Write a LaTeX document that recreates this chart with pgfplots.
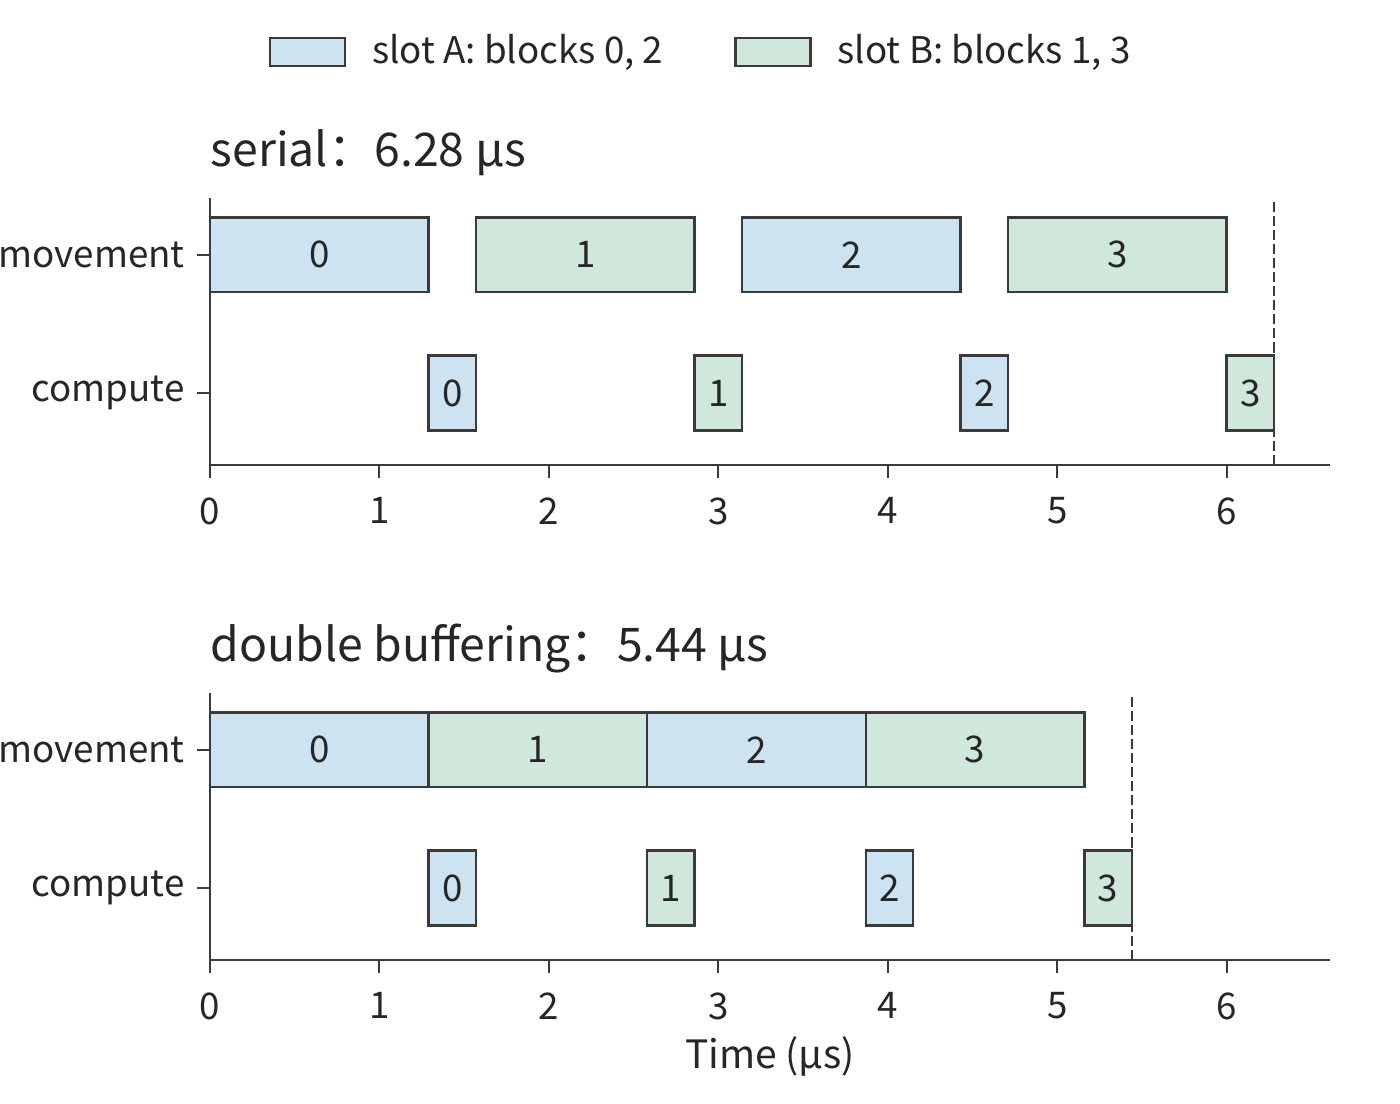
\documentclass[border=0pt]{standalone}
\usepackage{fontspec}
\setmainfont{Noto Sans CJK SC}
\usepackage{pgfplots}
\pgfplotsset{compat=1.18}

\definecolor{slotA}{RGB}{205,227,242}
\definecolor{slotB}{RGB}{208,232,220}
\definecolor{edge}{RGB}{58,58,58}
\definecolor{ink}{RGB}{38,38,38}

\pgfplotsset{
  gantt/.style={
    scale only axis, width=11.2cm, height=2.67cm,
    xmin=0, xmax=6.61, ymin=-0.52, ymax=1.41,
    axis x line*=bottom, axis y line*=left,
    axis line style={edge, line width=0.55pt},
    xtick={0,...,6}, ytick={0,1}, yticklabels={compute,movement},
    tick align=outside, major tick length=0.13cm,
    tick style={edge, line width=0.6pt},
    ticklabel style={text=ink},
    xticklabel style={yshift=-0.07cm},
    /pgf/number format/assume math mode=true,
    title style={at={(axis description cs:0,1)}, anchor=base west,
      font=\fontsize{13.2}{15}\selectfont, text=ink, inner sep=0pt,
      yshift=0.10cm},
    clip=false,
  },
  slot a/.style={draw=edge, line width=0.7pt, fill=slotA, forget plot},
  slot b/.style={draw=edge, line width=0.7pt, fill=slotB, forget plot},
  block num/.style={only marks, mark=none, forget plot, nodes near coords,
    point meta=explicit symbolic, nodes near coords align={center},
    every node near coord/.append style={text=ink}},
  finish/.style={edge, line width=0.6pt, dash pattern=on 2.85pt off 1.15pt, forget plot},
  patch legend/.style={legend image code/.code={
    \draw[##1] (0cm,-0.14cm) rectangle (0.75cm,0.14cm);}},
}

\begin{document}
\begin{tikzpicture}[font=\fontsize{10.45}{12.5}\selectfont]
\path[use as bounding box] (0,0) rectangle (14,11.04);

% serial: each block moved, then computed
\begin{axis}[gantt, at={(2.10cm,6.39cm)}, anchor=south west,
  title={serial：6.28 µs},
  legend columns=2, legend cell align=left,
  legend style={draw=none, fill=none, inner sep=0pt, text=ink,
    at={(axis description cs:0.0518,1.547)}, anchor=west,
    /tikz/every odd column/.append style={column sep=0.19cm},
    /tikz/every even column/.append style={column sep=0.64cm}},
]
\addlegendimage{slot a, patch legend}
\addlegendentry{slot A: blocks 0, 2}
\addlegendimage{slot b, patch legend}
\addlegendentry{slot B: blocks 1, 3}

% movement
\addplot[slot a] coordinates {(0,0.73) (1.29,0.73) (1.29,1.27) (0,1.27)} -- cycle;
\addplot[slot b] coordinates {(1.57,0.73) (2.86,0.73) (2.86,1.27) (1.57,1.27)} -- cycle;
\addplot[slot a] coordinates {(3.14,0.73) (4.43,0.73) (4.43,1.27) (3.14,1.27)} -- cycle;
\addplot[slot b] coordinates {(4.71,0.73) (6.00,0.73) (6.00,1.27) (4.71,1.27)} -- cycle;
% compute
\addplot[slot a] coordinates {(1.29,-0.27) (1.57,-0.27) (1.57,0.27) (1.29,0.27)} -- cycle;
\addplot[slot b] coordinates {(2.86,-0.27) (3.14,-0.27) (3.14,0.27) (2.86,0.27)} -- cycle;
\addplot[slot a] coordinates {(4.43,-0.27) (4.71,-0.27) (4.71,0.27) (4.43,0.27)} -- cycle;
\addplot[slot b] coordinates {(6.00,-0.27) (6.28,-0.27) (6.28,0.27) (6.00,0.27)} -- cycle;

\addplot[block num] coordinates {
  (0.645,1)[0] (2.215,1)[1] (3.785,1)[2] (5.355,1)[3]
  (1.43,0)[0] (3.00,0)[1] (4.57,0)[2] (6.14,0)[3]};

\addplot[finish] coordinates {(6.28,-0.52) (6.28,1.39)};
\end{axis}

% double buffering: next block moves while the current one computes
\begin{axis}[gantt, at={(2.10cm,1.44cm)}, anchor=south west,
  title={double buffering：5.44 µs},
  xlabel={Time (µs)},
  xlabel style={at={(axis description cs:0.5,0)}, anchor=base, yshift=-1.09cm,
    inner sep=0pt, text=ink, font=\fontsize{11.1}{13}\selectfont},
]
% movement
\addplot[slot a] coordinates {(0,0.73) (1.29,0.73) (1.29,1.27) (0,1.27)} -- cycle;
\addplot[slot b] coordinates {(1.29,0.73) (2.58,0.73) (2.58,1.27) (1.29,1.27)} -- cycle;
\addplot[slot a] coordinates {(2.58,0.73) (3.87,0.73) (3.87,1.27) (2.58,1.27)} -- cycle;
\addplot[slot b] coordinates {(3.87,0.73) (5.16,0.73) (5.16,1.27) (3.87,1.27)} -- cycle;
% compute
\addplot[slot a] coordinates {(1.29,-0.27) (1.57,-0.27) (1.57,0.27) (1.29,0.27)} -- cycle;
\addplot[slot b] coordinates {(2.58,-0.27) (2.86,-0.27) (2.86,0.27) (2.58,0.27)} -- cycle;
\addplot[slot a] coordinates {(3.87,-0.27) (4.15,-0.27) (4.15,0.27) (3.87,0.27)} -- cycle;
\addplot[slot b] coordinates {(5.16,-0.27) (5.44,-0.27) (5.44,0.27) (5.16,0.27)} -- cycle;

\addplot[block num] coordinates {
  (0.645,1)[0] (1.935,1)[1] (3.225,1)[2] (4.515,1)[3]
  (1.43,0)[0] (2.72,0)[1] (4.01,0)[2] (5.30,0)[3]};

\addplot[finish] coordinates {(5.44,-0.52) (5.44,1.39)};
\end{axis}
\end{tikzpicture}
\end{document}
